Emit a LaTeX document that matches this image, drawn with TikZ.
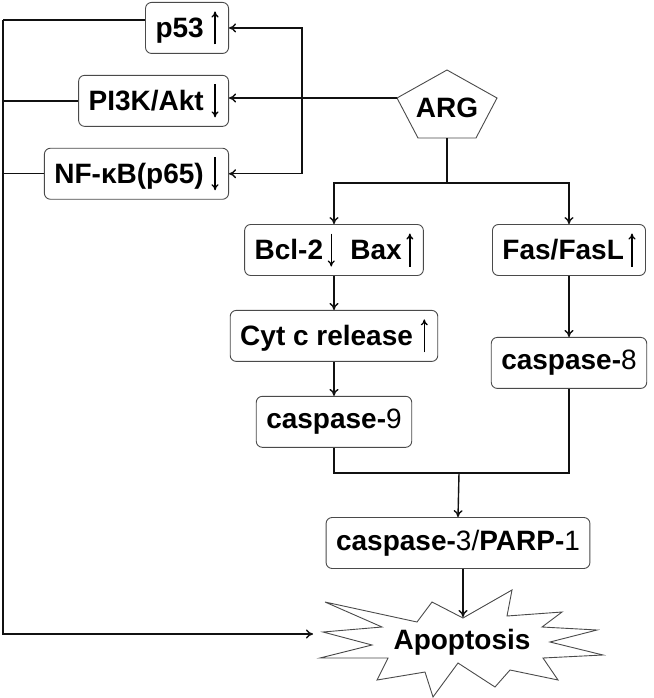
\documentclass[tikz,border=0pt]{standalone}
\usepackage{fontspec}
\setmainfont{Liberation Sans}
\usetikzlibrary{arrows.meta,positioning}
\definecolor{Ink}{HTML}{111111}
\definecolor{Frame}{HTML}{4A4A4A}
\newcommand{\upmark}{\tikz[baseline=0pt]\draw[line width=1.3pt,-{To[length=6pt,width=7pt]}] (0pt,-7pt) -- (0pt,26pt);}
\newcommand{\downmark}{\tikz[baseline=0pt]\draw[line width=1.3pt,-{To[length=6pt,width=7pt]}] (0pt,26pt) -- (0pt,-7pt);}
\newcommand{\thin}[1]{{\mdseries #1}}
\tikzset{
  boxnode/.style={rounded corners=6pt,draw=Frame,line width=0.9pt,fill=white,minimum height=51pt,inner xsep=10pt,font=\fontsize{28}{30}\selectfont\bfseries},
  label/.style={font=\fontsize{28}{30}\selectfont\bfseries},
  outline/.style={draw=Frame,line width=0.9pt},
  link/.style={draw=Ink,line width=1.4pt},
  arrow/.style={link,-{To[length=7pt,width=9pt]}}
}

\begin{document}
\begin{tikzpicture}[x=1pt,y=-1pt]
  \useasboundingbox (0,0) rectangle (653,698);
  % left group
  \node[boxnode,anchor=north east] (p53) at (229,2) {p53 \upmark};
  \node[boxnode,below=21pt of p53.south east,anchor=north east] (pi3k) {PI3K/Akt \downmark};
  \node[boxnode,below=21pt of pi3k.south east,anchor=north east] (nfkb) {NF-κB(p65) \downmark};
  % ARG
  \node[label] (arg) at (447,108) {ARG};
  \coordinate (argT) at (447,70);
  \coordinate (argR) at (497,98);
  \coordinate (argBR) at (476,138);
  \coordinate (argBL) at (418,138);
  \coordinate (argL) at (397,98);
  \draw[outline] (argT) -- (argR) -- (argBR) -- (argBL) -- (argL) -- cycle;
  \coordinate (argB) at (447,138);
  % mitochondrial branch
  \node[boxnode] (bcl) at (334,250) {Bcl-2\,\downmark\ \ Bax\,\upmark};
  \node[boxnode,below=34pt of bcl] (cyt) {Cyt c release \upmark};
  \node[boxnode,below=34pt of cyt] (casp9) {caspase-\thin{9}};
  % death receptor branch
  \node[boxnode] (fas) at (569,250) {Fas/FasL\,\upmark};
  \node[boxnode,below=61pt of fas] (casp8) {caspase-\thin{8}};
  \node[boxnode] (casp3) at (458,543) {caspase-\thin{3/}PARP-\thin{1}};
  % burst
  \node[label] (apo) at (462,642) {Apoptosis};
  \draw[outline] (325,602) -- (417,622) -- (432,602) -- (463,618) -- (512,590)
    -- (507,616) -- (562,612) -- (542,627) -- (597,630) -- (550,642)
    -- (603,655) -- (543,658) -- (558,680) -- (510,670) -- (495,687)
    -- (458,663) -- (433,697) -- (425,672) -- (377,680) -- (388,658)
    -- (320,658) -- (372,645) -- (323,632) -- (382,627) -- cycle;
  \coordinate (apoTop) at (463,617);
  \coordinate (apoLeft) at (313,634);
  % connectors
  \coordinate (hub) at (302,98);
  \coordinate (split) at (447,183);
  \coordinate (merge) at (459,473);
  \coordinate (busL) at (3,20);
  \draw[arrow] (argL) -- (argL -| pi3k.east);
  \draw[arrow] (hub) |- (p53.east);
  \draw[arrow] (hub) |- (nfkb.east);
  \draw[link] (argB) -- (split);
  \draw[arrow] (split) -| (bcl.north);
  \draw[arrow] (split) -| (fas.north);
  \draw[arrow] (bcl) -- (cyt);
  \draw[arrow] (cyt) -- (casp9);
  \draw[arrow] (fas) -- (casp8);
  \draw[link] (casp9.south) |- (merge) -| (casp8.south);
  \draw[arrow] (merge) -- (casp3.north);
  \draw[arrow] (casp3.south -| apoTop) -- (apoTop);
  \draw[link] (p53.west |- busL) -- (busL);
  \draw[link] (pi3k.west) -- (pi3k.west -| busL);
  \draw[link] (nfkb.west) -- (nfkb.west -| busL);
  \draw[arrow] (busL) |- (apoLeft);
\end{tikzpicture}
\end{document}
